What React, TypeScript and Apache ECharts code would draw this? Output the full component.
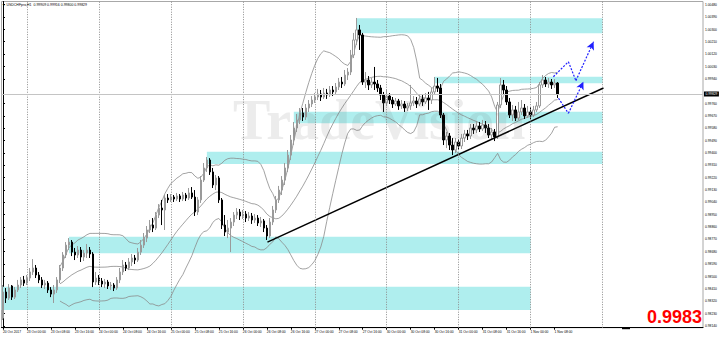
import React, { useEffect, useRef } from "react";
import * as echarts from "echarts";

const symbolName = "USDCHFpro,H1";

const xTickLabels = [
  "20 Oct 2017", "23 Oct 00:00", "23 Oct 08:00", "23 Oct 16:00", "24 Oct 00:00", "24 Oct 08:00",
  "24 Oct 16:00", "25 Oct 00:00", "25 Oct 08:00", "25 Oct 16:00", "26 Oct 00:00", "26 Oct 08:00",
  "26 Oct 16:00", "27 Oct 00:00", "27 Oct 08:00", "27 Oct 16:00", "30 Oct 00:00", "30 Oct 08:00",
  "30 Oct 16:00", "31 Oct 00:00", "31 Oct 08:00", "31 Oct 16:00", "1 Nov 00:00", "1 Nov 08:00",
];
const barsPerLabel = 8;
const dayGridIndices = [8, 32, 56, 80, 104, 128, 152, 176, 200];

const yTickValues = [
  0.9814, 0.9823, 0.9832, 0.9841, 0.985, 0.9859, 0.9868, 0.9877, 0.9886, 0.9895, 0.9904, 0.9913,
  0.9922, 0.9931, 0.994, 0.9949, 0.9958, 0.9967, 0.9976, 0.9985, 0.9994, 1.0003, 1.0012, 1.0021,
  1.003, 1.0039, 1.0048,
];

// [open, close, low, high]  H1 bars from 20 Oct 16:00
const candles: number[][] = [
  [0.98196, 0.98386, 0.98182, 0.98437], [0.98386, 0.98342, 0.98306, 0.98415], [0.98342, 0.98415, 0.98328, 0.98444], [0.9843, 0.98349, 0.98328, 0.98437],
  [0.98349, 0.98401, 0.98335, 0.98422], [0.98401, 0.98437, 0.98386, 0.98474], [0.98437, 0.98474, 0.98415, 0.98495], [0.98474, 0.98451, 0.9843, 0.98503],
  // 23 Oct
  [0.98451, 0.98488, 0.98437, 0.9851], [0.98488, 0.98532, 0.98466, 0.98561], [0.98532, 0.98561, 0.9851, 0.98626], [0.98561, 0.9851, 0.98488, 0.98583],
  [0.9851, 0.98474, 0.98451, 0.98532], [0.98474, 0.98437, 0.98415, 0.98495], [0.98437, 0.98451, 0.98408, 0.98474], [0.98451, 0.98401, 0.98379, 0.98466],
  [0.98401, 0.98371, 0.98349, 0.98422], [0.98371, 0.98401, 0.98306, 0.98437], [0.98401, 0.98474, 0.98379, 0.98495], [0.98474, 0.98561, 0.98451, 0.98583],
  [0.98561, 0.98656, 0.98539, 0.98677], [0.98656, 0.98728, 0.98634, 0.9875], [0.98728, 0.9875, 0.98692, 0.98779], [0.9875, 0.98677, 0.98648, 0.98765],
  [0.98677, 0.98656, 0.98619, 0.98707], [0.98656, 0.98692, 0.98634, 0.98721], [0.98692, 0.98641, 0.98605, 0.98714], [0.98641, 0.9867, 0.98612, 0.98692],
  [0.9867, 0.98692, 0.98634, 0.98736], [0.98692, 0.98663, 0.98634, 0.98714], [0.98663, 0.98459, 0.98422, 0.98677], [0.98459, 0.98488, 0.98437, 0.98532],
  // 24 Oct
  [0.98488, 0.98466, 0.98437, 0.9851], [0.98466, 0.98444, 0.98422, 0.98488], [0.98444, 0.98459, 0.98415, 0.98481], [0.98459, 0.9843, 0.98408, 0.98474],
  [0.9843, 0.98437, 0.98401, 0.98459], [0.98437, 0.98415, 0.98393, 0.98451], [0.98415, 0.98474, 0.98401, 0.98495], [0.98474, 0.98532, 0.98451, 0.98561],
  [0.98532, 0.98583, 0.9851, 0.98619], [0.98583, 0.98561, 0.98539, 0.98605], [0.98561, 0.98605, 0.98546, 0.98634], [0.98605, 0.98634, 0.98575, 0.98663],
  [0.98634, 0.98619, 0.9859, 0.98656], [0.98619, 0.98677, 0.98605, 0.98707], [0.98677, 0.98728, 0.98656, 0.98765], [0.98728, 0.98779, 0.98707, 0.98816],
  [0.98779, 0.98838, 0.9875, 0.98867], [0.98838, 0.98874, 0.98816, 0.98911], [0.98874, 0.98852, 0.98823, 0.98925], [0.98852, 0.98947, 0.98838, 0.98969],
  [0.98947, 0.98998, 0.98925, 0.99027], [0.98998, 0.98984, 0.98874, 0.99057], [0.98984, 0.99071, 0.98838, 0.99093], [0.99071, 0.99057, 0.99035, 0.991],
  // 25 Oct
  [0.99057, 0.99078, 0.99042, 0.991], [0.99078, 0.99064, 0.99042, 0.99093], [0.99064, 0.99086, 0.99049, 0.99108], [0.99086, 0.99064, 0.99042, 0.991],
  [0.99064, 0.99093, 0.99049, 0.99115], [0.99093, 0.99071, 0.99049, 0.99108], [0.99071, 0.99108, 0.99057, 0.99144], [0.99108, 0.99078, 0.99064, 0.99151],
  [0.99078, 0.98969, 0.9894, 0.99129], [0.98969, 0.99057, 0.98947, 0.99078], [0.99057, 0.99202, 0.99035, 0.99231], [0.99202, 0.9929, 0.99188, 0.99326],
  [0.9929, 0.99348, 0.99261, 0.9937], [0.99348, 0.99261, 0.99239, 0.99362], [0.99261, 0.99166, 0.99144, 0.9929], [0.99166, 0.99217, 0.99129, 0.99239],
  [0.99217, 0.99057, 0.99035, 0.99231], [0.99057, 0.98874, 0.98845, 0.99071], [0.98874, 0.98823, 0.98794, 0.98947], [0.98823, 0.98852, 0.98779, 0.98911],
  [0.98852, 0.98896, 0.98677, 0.98925], [0.98896, 0.98947, 0.98867, 0.98969], [0.98947, 0.98969, 0.98918, 0.98998], [0.98969, 0.9894, 0.98911, 0.98991],
  // 26 Oct
  [0.9894, 0.98954, 0.98918, 0.98984], [0.98954, 0.98925, 0.98896, 0.98976], [0.98925, 0.9894, 0.98904, 0.98969], [0.9894, 0.98911, 0.98882, 0.98962],
  [0.98911, 0.98925, 0.98889, 0.98954], [0.98925, 0.98889, 0.98867, 0.98947], [0.98889, 0.98904, 0.9886, 0.98933], [0.98904, 0.98852, 0.98823, 0.98918],
  [0.98852, 0.98794, 0.98765, 0.98874], [0.98794, 0.98896, 0.98779, 0.98925], [0.98896, 0.98984, 0.98874, 0.99013], [0.98984, 0.99057, 0.98962, 0.99086],
  [0.99057, 0.99129, 0.99035, 0.99159], [0.99129, 0.99202, 0.99093, 0.99231], [0.99202, 0.9929, 0.99166, 0.99326], [0.9929, 0.99384, 0.99261, 0.99421],
  [0.99384, 0.99494, 0.99348, 0.9953], [0.99494, 0.99581, 0.99457, 0.99625], [0.99581, 0.9964, 0.99552, 0.99683], [0.9964, 0.99691, 0.9961, 0.99727],
  [0.99691, 0.99661, 0.99632, 0.99727], [0.99661, 0.99727, 0.9964, 0.99756], [0.99727, 0.99756, 0.99698, 0.99785], [0.99756, 0.99785, 0.99734, 0.99814],
  // 27 Oct
  [0.99785, 0.99807, 0.99764, 0.99836], [0.99807, 0.99829, 0.99785, 0.99866], [0.99829, 0.99807, 0.99778, 0.99858], [0.99807, 0.99836, 0.99793, 0.99873],
  [0.99836, 0.99822, 0.99793, 0.99866], [0.99822, 0.99858, 0.99807, 0.99887], [0.99858, 0.99844, 0.99814, 0.99887], [0.99844, 0.9988, 0.99829, 0.99909],
  [0.9988, 0.99916, 0.99858, 0.99946], [0.99916, 0.99902, 0.99873, 0.99953], [0.99902, 0.99967, 0.99887, 1.00004], [0.99967, 0.99989, 0.99931, 1.00018],
  [0.99989, 1.00113, 0.99967, 1.0015], [1.00113, 1.00223, 1.00091, 1.00274], [1.00223, 1.00296, 1.00186, 1.00383], [1.00296, 1.00259, 1.0015, 1.00332],
  [1.00259, 0.99916, 0.99895, 1.00274], [0.99916, 0.99931, 0.99873, 0.99989], [0.99931, 0.99895, 0.99858, 0.9996], [0.99895, 0.99916, 0.99873, 0.99946],
  [0.99916, 0.99902, 0.99858, 1.00026], [0.99902, 0.99873, 0.99844, 0.99931], [0.99873, 0.99822, 0.99785, 0.99895], [0.99822, 0.99764, 0.99698, 0.99844],
  // 30 Oct
  [0.99764, 0.99814, 0.99742, 0.99858], [0.99814, 0.99785, 0.99756, 0.99836], [0.99785, 0.99756, 0.99727, 0.99807], [0.99756, 0.99778, 0.99742, 0.998],
  [0.99778, 0.99742, 0.99713, 0.99793], [0.99742, 0.99756, 0.9972, 0.99785], [0.99756, 0.99727, 0.99698, 0.99778], [0.99727, 0.99742, 0.99705, 0.99764],
  [0.99742, 0.99764, 0.99713, 0.99895], [0.99764, 0.99778, 0.99742, 0.99814], [0.99778, 0.99756, 0.99727, 0.99807], [0.99756, 0.99793, 0.99742, 0.99822],
  [0.99793, 0.99771, 0.99742, 0.99829], [0.99771, 0.998, 0.99756, 0.99836], [0.998, 0.99785, 0.99713, 0.99844], [0.99785, 0.99844, 0.99756, 0.99873],
  [0.99844, 0.99887, 0.99822, 0.99953], [0.99887, 0.99873, 0.99844, 0.99946], [0.99873, 0.99676, 0.99654, 0.99902], [0.99676, 0.99494, 0.99457, 0.99691],
  [0.99494, 0.99523, 0.99435, 0.99552], [0.99523, 0.99457, 0.99421, 0.99545], [0.99457, 0.99421, 0.99384, 0.99508], [0.99421, 0.99479, 0.99399, 0.99508],
  // 31 Oct
  [0.99479, 0.9945, 0.99421, 0.99501], [0.9945, 0.99508, 0.99428, 0.99538], [0.99508, 0.99538, 0.99479, 0.99567], [0.99538, 0.99523, 0.99494, 0.99567],
  [0.99523, 0.99581, 0.99501, 0.9961], [0.99581, 0.99567, 0.99538, 0.9961], [0.99567, 0.99596, 0.99545, 0.99632], [0.99596, 0.99574, 0.99552, 0.99625],
  [0.99574, 0.99603, 0.99559, 0.9964], [0.99603, 0.99581, 0.99545, 0.99632], [0.99581, 0.9953, 0.99508, 0.9961], [0.9953, 0.99552, 0.99494, 0.99581],
  [0.99552, 0.99516, 0.99486, 0.99574], [0.99516, 0.99749, 0.99501, 0.99771], [0.99749, 0.99895, 0.99727, 0.99946], [0.99895, 0.99858, 0.99829, 0.99931],
  [0.99858, 0.99771, 0.99749, 0.99887], [0.99771, 0.99676, 0.99654, 0.998], [0.99676, 0.99713, 0.99632, 0.99749], [0.99713, 0.99654, 0.99632, 0.99742],
  [0.99654, 0.99698, 0.9964, 0.99771], [0.99698, 0.99727, 0.99676, 0.99785], [0.99727, 0.99669, 0.99647, 0.99756], [0.99669, 0.99698, 0.99654, 0.99742],
  // 1 Nov
  [0.99698, 0.99676, 0.99647, 0.99734], [0.99676, 0.99713, 0.99661, 0.99742], [0.99713, 0.99742, 0.99698, 0.99771], [0.99742, 0.99895, 0.99727, 0.99916],
  [0.99895, 0.99931, 0.99873, 0.99967], [0.99931, 0.99902, 0.9988, 0.99953], [0.99902, 0.99916, 0.99873, 0.99946], [0.99916, 0.99895, 0.99866, 0.99938],
  [0.99895, 0.99909, 0.99873, 0.99938], [0.99909, 0.99829, 0.998, 0.99916],
];

// supply / demand zones: [fromBar, toBar, lowPrice, highPrice]
const zones = [
  [118, 200, 1.00272, 1.00381],
  [144, 200, 0.99907, 0.99955],
  [97, 200, 0.99616, 0.997],
  [68, 200, 0.99319, 0.99409],
  [22, 176, 0.98668, 0.98789],
  [-0.5, 176, 0.98255, 0.98425],
];

const trendLine = [[88.2, 0.9875], [200.3, 0.99873]];
const upperArrowPath = [[183.6, 0.99955], [188.6, 1.00064], [191.1, 0.99926], [197.0, 1.0021]];
const lowerArrowPath = [[185.3, 0.99798], [188.6, 0.99688], [193.6, 0.99919]];

const SLOT_COUNT = 234;
const Y_MIN = 0.98126;
const Y_MAX = 1.00503;
const BB_PERIOD = 20;
const BB_DEV = 2;

function bollinger(values: number[], period: number, k: number) {
  const mid: (number | null)[] = [];
  const up: (number | null)[] = [];
  const lo: (number | null)[] = [];
  for (let i = 0; i < values.length; i++) {
    if (i < period - 1) {
      mid.push(null); up.push(null); lo.push(null);
      continue;
    }
    let s = 0;
    for (let j = i - period + 1; j <= i; j++) s += values[j];
    const m = s / period;
    let v = 0;
    for (let j = i - period + 1; j <= i; j++) v += (values[j] - m) * (values[j] - m);
    const sd = Math.sqrt(v / period);
    mid.push(m); up.push(m + k * sd); lo.push(m - k * sd);
  }
  return { mid, up, lo };
}

function pathSegments(path: number[][]) {
  const segs: any[] = [];
  for (let i = 0; i < path.length - 1; i++) {
    const last = i === path.length - 2;
    segs.push([
      { coord: path[i], symbol: "none" },
      { coord: path[i + 1], symbol: last ? "arrow" : "none", symbolSize: last ? [6, 8] : 0 },
    ]);
  }
  return segs;
}

export default function App() {
  const ref = useRef<HTMLDivElement>(null);

  useEffect(() => {
    document.body.style.margin = "0";
    if (!ref.current) return;
    const chart = echarts.init(ref.current, undefined, { renderer: "svg" });

    const categories = Array.from({ length: SLOT_COUNT }, (_, i) => String(i));
    const closes = candles.map((c) => c[1]);
    const bb = bollinger(closes, BB_PERIOD, BB_DEV);
    const last = candles[candles.length - 1];
    const lastClose = last[1];
    const shownTicks = yTickValues.filter((v) => Math.abs(v - lastClose) > 0.0004);
    const font = "Liberation Sans";

    const labelAt = (index: number) =>
      index % barsPerLabel === 0 && index / barsPerLabel < xTickLabels.length;

    const bbLine = (data: (number | null)[]) => ({
      type: "line",
      data,
      xAxisIndex: 0,
      symbol: "none",
      silent: true,
      z: 2,
      lineStyle: { color: "#8a8a8a", width: 0.8 },
    });

    const option: any = {
      animation: false,
      backgroundColor: "#ffffff",
      grid: {
        left: 1,
        top: 1.5,
        width: 702,
        height: 326.2,
        show: true,
        borderColor: "#a8a8a8",
        borderWidth: 1,
        backgroundColor: "#ffffff",
      },
      xAxis: [
        {
          type: "category",
          data: categories,
          boundaryGap: true,
          axisLine: { show: true, lineStyle: { color: "#000", width: 1 } },
          axisTick: {
            show: true,
            alignWithLabel: true,
            interval: (i: number) => labelAt(i),
            length: 2,
            lineStyle: { color: "#000" },
          },
          axisLabel: {
            interval: (i: number) => labelAt(i),
            formatter: (_v: string, i: number) => (labelAt(i) ? xTickLabels[i / barsPerLabel] : ""),
            fontSize: 3.3,
            fontFamily: font,
            color: "#000",
            margin: 2.5,
            align: "left",
          },
          splitLine: { show: false },
        },
        { type: "value", min: -0.5, max: SLOT_COUNT - 0.5, show: false },
      ],
      yAxis: {
        type: "value",
        position: "right",
        min: Y_MIN,
        max: Y_MAX,
        axisLine: { show: true, lineStyle: { color: "#000", width: 1 } },
        axisTick: { show: true, length: 2, customValues: shownTicks, lineStyle: { color: "#000" } },
        axisLabel: {
          customValues: shownTicks,
          formatter: (v: number) => v.toFixed(5),
          fontSize: 3.3,
          fontFamily: font,
          color: "#000",
          margin: 2,
        },
        splitLine: { show: false },
      },
      series: [
        {
          type: "line",
          xAxisIndex: 1,
          data: [[0, Y_MIN - 0.01]],
          symbol: "none",
          silent: true,
          z: 1,
          lineStyle: { opacity: 0 },
          markArea: {
            silent: true,
            itemStyle: { color: "#afeeee", opacity: 1 },
            data: zones.map((zn) => [{ coord: [zn[0], zn[3]] }, { coord: [zn[1], zn[2]] }]),
          },
          markLine: {
            silent: true,
            precision: 5,
            symbol: ["none", "none"],
            label: { show: false },
            data: [
              ...dayGridIndices.map((i) => ({
                xAxis: i,
                lineStyle: { color: "#8c8c8c", width: 1, type: [1, 1.5] },
              })),
              {
                yAxis: lastClose,
                lineStyle: { color: "#c4c4c4", width: 1, type: "solid" },
                label: {
                  show: true,
                  position: "end",
                  distance: 1,
                  formatter: lastClose.toFixed(5),
                  backgroundColor: "#000",
                  color: "#fff",
                  fontSize: 3.3,
                  fontFamily: font,
                  padding: [1, 1.5],
                },
              },
            ],
          },
        },
        bbLine(bb.up),
        bbLine(bb.mid),
        bbLine(bb.lo),
        {
          type: "candlestick",
          data: candles,
          xAxisIndex: 0,
          barWidth: 2,
          z: 3,
          silent: true,
          itemStyle: {
            color: "#ffffff",
            color0: "#000000",
            borderColor: "#9a9a9a",
            borderColor0: "#000000",
            borderWidth: 1,
          },
        },
        {
          type: "line",
          xAxisIndex: 1,
          data: trendLine,
          symbol: "none",
          silent: true,
          z: 4,
          lineStyle: { color: "#000", width: 1.5 },
          markLine: {
            silent: true,
            precision: 5,
            symbol: ["none", "none"],
            label: { show: false },
            lineStyle: { color: "#1f1fff", width: 1.2, type: [2, 1.5] },
            data: [...pathSegments(upperArrowPath), ...pathSegments(lowerArrowPath)],
          },
        },
      ],
      graphic: [
        {
          type: "text",
          left: 2,
          top: 2.8,
          z: 50,
          style: {
            text: `▼ ${symbolName}  ${last[0].toFixed(5)} ${last[3].toFixed(5)} ${last[2].toFixed(5)} ${last[1].toFixed(5)}`,
            fontSize: 3.5,
            fontFamily: font,
            fill: "#000",
          },
        },
        {
          type: "text",
          x: 233,
          y: 92,
          z: 60,
          silent: true,
          style: {
            text: "TradeVision",
            fontSize: 56,
            fontWeight: "bold",
            fontFamily: "Liberation Serif",
            fill: "rgba(110,110,110,0.13)",
          },
        },
        {
          type: "text",
          x: 702,
          y: 326,
          z: 50,
          style: {
            text: lastClose.toFixed(4),
            fontSize: 18,
            fontWeight: "bold",
            fontFamily: font,
            fill: "#ff0000",
            align: "right",
            verticalAlign: "bottom",
          },
        },
        {
          type: "rect",
          x: 622,
          y: 327.2,
          z: 50,
          shape: { width: 8, height: 2 },
          style: { fill: "#000" },
        },
      ],
    };

    chart.setOption(option);
    return () => chart.dispose();
  }, []);

  return <div ref={ref} style={{ width: 720, height: 338 }} />;
}
